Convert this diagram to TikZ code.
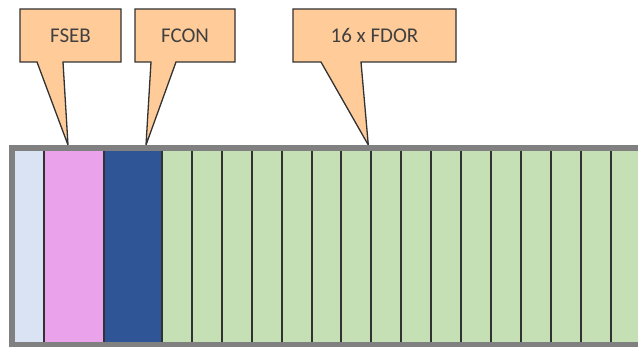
\documentclass[tikz,border=0pt]{standalone}
\usepackage{fontspec}
\setmainfont{Carlito}
\usepackage{xcolor}
\usepackage{tikz}
\usetikzlibrary{calc}
\usetikzlibrary{positioning}
\usetikzlibrary{backgrounds}
\definecolor{calloutfill}{RGB}{255,204,153}
\definecolor{darkline}{RGB}{50,50,50}
\definecolor{textgray}{RGB}{64,64,64}
\definecolor{framegray}{RGB}{128,128,128}
\definecolor{spareblue}{RGB}{218,227,243}
\definecolor{sebpink}{RGB}{234,163,234}
\definecolor{conblue}{RGB}{47,85,151}
\definecolor{dorgreen}{RGB}{197,224,180}

\begin{document}
\begin{tikzpicture}[x=1pt,y=1pt,node distance=0pt]
	\tikzstyle{cell}=[draw=darkline, line width=2pt, inner sep=0pt, outer sep=0pt, minimum height=196pt]
	\tikzstyle{callout}=[inner sep=0pt, outer sep=0pt, minimum height=53pt, text=textgray, font=\fontsize{21}{25}\selectfont]
	\tikzstyle{pointer}=[fill=calloutfill, draw=darkline, line width=1.3pt, line join=miter]
	\tikzstyle{frame}=[draw=framegray, line width=6pt]
	\useasboundingbox (0,0) rectangle (638,346);
	% cells of the block
	\node[cell, fill=spareblue, minimum width=32pt, anchor=south west] (1) at (12,0) {};
	\node[cell, fill=sebpink, minimum width=60pt, right=of 1] (2) {};
	\node[cell, fill=conblue, minimum width=58pt, right=of 2] (3) {};
	\foreach \i [remember=\i as \last (initially 3)] in {4,...,19}
		\node[cell, fill=dorgreen, minimum width=29.9pt, right=of \last] (\i) {};
	\draw[frame] ($(1.south west)+(0,1)$) rectangle ($(19.north east)+(30,2)$);
	% callouts
	\node[callout, minimum width=101pt] (fseb) at (70.5,310.5) {FSEB};
	\node[callout, minimum width=100pt, right=14pt of fseb] (fcon) {FCON};
	\node[callout, minimum width=163pt, right=58pt of fcon] (fdor) {16 x FDOR};
	\coordinate (t1) at ($(2.north)+(-6,5)$);
	\coordinate (t2) at ($(3.north)+(13,5)$);
	\coordinate (t3) at ($(10.north east)+(-3,5)$);
	\begin{scope}[on background layer]
		\draw[pointer] (fseb.north west) -- (fseb.north east) -- (fseb.south east) -- ($(fseb.south west)+(43,0)$) -- (t1) -- ($(fseb.south west)+(17,0)$) -- (fseb.south west) -- cycle;
		\draw[pointer] (fcon.north west) -- (fcon.north east) -- (fcon.south east) -- ($(fcon.south west)+(41,0)$) -- (t2) -- ($(fcon.south west)+(16,0)$) -- (fcon.south west) -- cycle;
		\draw[pointer] (fdor.north west) -- (fdor.north east) -- (fdor.south east) -- ($(fdor.south west)+(68,0)$) -- (t3) -- ($(fdor.south west)+(28,0)$) -- (fdor.south west) -- cycle;
	\end{scope}
\end{tikzpicture}
\end{document}
